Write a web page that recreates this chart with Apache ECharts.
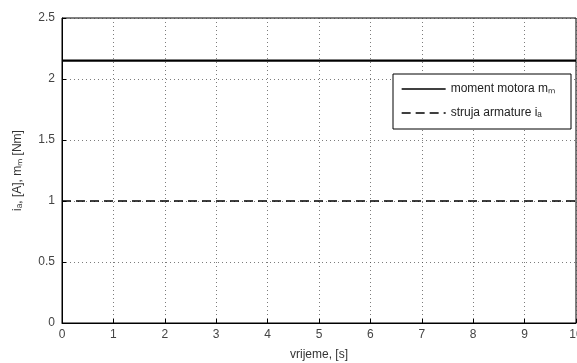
<!DOCTYPE html>
<html><head><meta charset="utf-8">
<script src="https://cdn.jsdelivr.net/npm/echarts@6/dist/echarts.min.js"></script>
<style>html,body{margin:0;padding:0;background:#fff}#c{width:577px;height:363px}</style>
</head><body><div id="c"></div>
<script>
const time = [0, 10];
const momentMotora = [2.15, 2.15];
const strujaArmature = [1, 1];
const seriesNames = ['moment motora m\u2098', 'struja armature i\u2090'];
const xTicks = [0,1,2,3,4,5,6,7,8,9,10];
const yTicks = [0,0.5,1,1.5,2,2.5];

const chart = echarts.init(document.getElementById('c'), null, {renderer:'canvas'});
const font = 'Liberation Sans';
const gridLine = {show:true, lineStyle:{color:'#444', type:[1,3], width:1, opacity:0.7}};
chart.setOption({
  animation:false,
  backgroundColor:'#fff',
  grid:{left:62, right:1, top:18, bottom:40, show:true, borderColor:'#000', borderWidth:1,
        containLabel:false, outerBoundsMode:'none'},
  legend:{
    left:393, top:74, width:178, orient:'vertical',
    backgroundColor:'#fff', borderColor:'#000', borderWidth:1,
    padding:[9,16,10,8], itemGap:12, itemWidth:44, itemHeight:14,
    textStyle:{fontFamily:font, fontSize:12, color:'#222'},
    itemStyle:{opacity:0},
    lineStyle:{width:1.3},
    data:seriesNames
  },
  xAxis:{
    type:'value', min:0, max:10, interval:1,
    name:'vrijeme, [s]', nameLocation:'middle', nameGap:26,
    nameTextStyle:{fontFamily:font, fontSize:12, color:'#333'},
    axisLine:{show:true, lineStyle:{color:'#000'}},
    axisTick:{show:true, inside:true, length:4, lineStyle:{color:'#000'}},
    axisLabel:{fontFamily:font, fontSize:12, color:'#444', margin:6},
    splitLine:gridLine
  },
  yAxis:{
    type:'value', min:0, max:2.5, interval:0.5,
    name:'i\u2090, [A], m\u2098 [Nm]', nameLocation:'middle', nameGap:38,
    nameTextStyle:{fontFamily:font, fontSize:12, color:'#333'},
    axisLine:{show:true, lineStyle:{color:'#000'}},
    axisTick:{show:true, inside:true, length:4, lineStyle:{color:'#000'}},
    axisLabel:{fontFamily:font, fontSize:12, color:'#444', margin:7},
    splitLine:gridLine
  },
  series:[
    {name:seriesNames[0], type:'line', symbol:'none', data:time.map((t,i)=>[t,momentMotora[i]]),
     lineStyle:{color:'#000', width:2.2, type:'solid'}, itemStyle:{color:'#000'}},
    {name:seriesNames[1], type:'line', symbol:'none', data:time.map((t,i)=>[t,strujaArmature[i]]),
     lineStyle:{color:'#000', width:1.5, type:[9,5]}, itemStyle:{color:'#000'}}
  ]
});
</script></body></html>
